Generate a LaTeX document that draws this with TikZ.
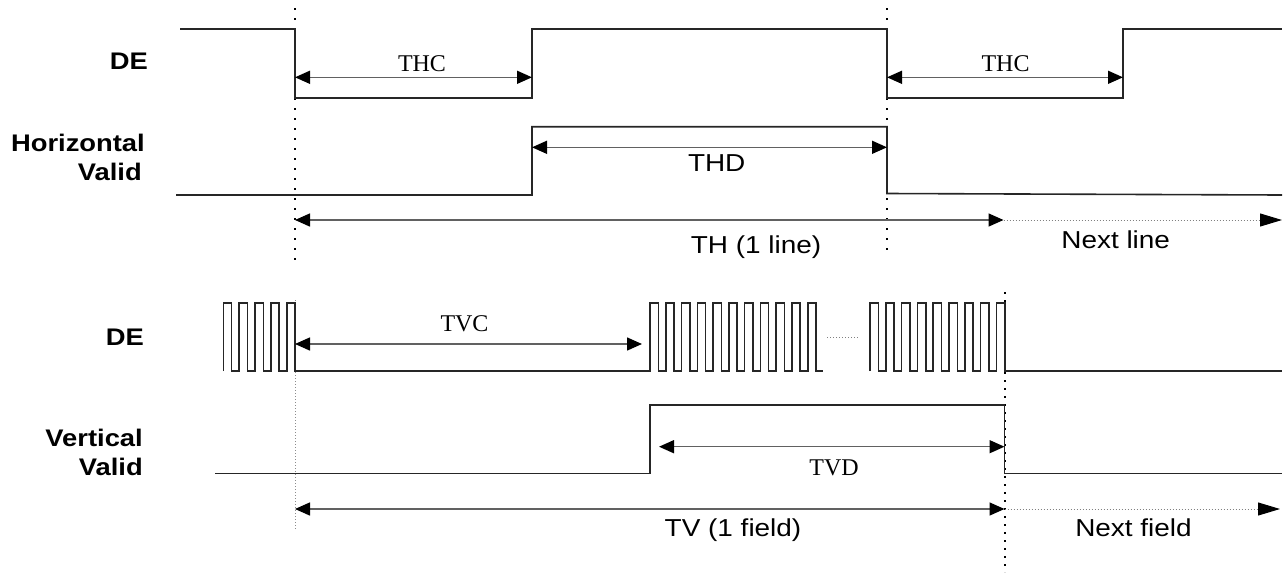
\documentclass[tikz,border=0pt]{standalone}
\usepackage{fontspec}
\setmainfont{Liberation Serif}
\newfontfamily\wsans[FakeStretch=1.14]{Liberation Sans}
\usetikzlibrary{arrows.meta}
\begin{document}
\begin{tikzpicture}[x=1pt,y=-1pt,
  wave/.style={line width=1.6pt, black!85, line join=miter},
  dimarrow/.style={line width=1.5pt, black!62,
    {Triangle[length=15pt,width=13pt,color=black]}-{Triangle[length=15pt,width=13pt,color=black]}},
  nextdot/.style={line width=1pt, black!50, dash pattern=on 1pt off 2pt,
    -{Triangle[length=22pt,width=13pt,color=black]}},
  gapdot/.style={line width=1pt, black!50, dash pattern=on 1pt off 2pt},
  vdotA/.style={line width=2pt, black, dash pattern=on 2pt off 8pt},
  vdotB/.style={line width=1pt, black!45, dash pattern=on 1pt off 2pt},
  vdotC/.style={line width=2pt, black, dash pattern=on 2pt off 6pt},
  siglabel/.style={font=\wsans\bfseries\fontsize{24}{28}\selectfont, inner sep=0pt, anchor=base east},
  sanslabel/.style={font=\wsans\fontsize{24.5}{28}\selectfont, inner sep=0pt, anchor=base},
  seriflabel/.style={font=\fontsize{24}{28}\selectfont, inner sep=0pt, anchor=base}
]
\useasboundingbox (0,0) rectangle (1286,574);

% ---------- vertical dotted guide lines ----------
\coordinate (gA1) at (295,8);   \coordinate (gA2) at (295,267);
\coordinate (gB1) at (887,8);   \coordinate (gB2) at (887,253);
\coordinate (gC1) at (295,300); \coordinate (gC2) at (295,530);
\coordinate (gD1) at (1004.5,292); \coordinate (gD2) at (1004.5,572);
\draw[vdotA] (gA1) -- (gA2);
\draw[vdotA] (gB1) -- (gB2);
\draw[vdotB] (gC1) -- (gC2);
\draw[vdotC] (gD1) -- (gD2);

% ---------- signal labels ----------
\node[siglabel] (lde1) at (148,69.3) {DE};
\node[siglabel] (lhv1) at (145,151.7) {Horizontal};
\node[siglabel] (lhv2) at (142,180.7) {Valid};
\node[siglabel] (lde2) at (144,345) {DE};
\node[siglabel] (lvv1) at (143,446.7) {Vertical};
\node[siglabel] (lvv2) at (143,475) {Valid};

% ---------- top DE ----------
\draw[wave] (180,29) -- (295,29) -- (295,97.7) -- (532,97.7) -- (532,29)
  -- (887,29) -- (887,97.7) -- (1123,97.7) -- (1123,29) -- (1282,29);

% ---------- Horizontal Valid ----------
\draw[wave] (176,195) -- (532,195) -- (532,126.7) -- (887,126.7)
  -- (887,193.5) -- (1282,195);

% ---------- lower DE pulse trains ----------
\draw[wave] (223.3,371) \foreach \i in {1,...,5} { -- ++(0,-68) -- ++(8.3,0) -- ++(0,68) -- ++(7.55,0) }
  -- (650,371)
  \foreach \i in {1,...,11} { -- ++(0,-68) -- ++(8.3,0) -- ++(0,68) -- ++(7.47,0) };
\draw[wave] (870,371) \foreach \i in {1,...,8} { -- ++(0,-68) -- ++(8.3,0) -- ++(0,68) -- ++(7.5,0) }
  -- ++(0,-68) -- ++(8.3,0) -- ++(0,68) -- (1282,371);
\coordinate (gap1) at (827,337.3); \coordinate (gap2) at (859,337.3);
\draw[gapdot] (gap1) -- (gap2);

% ---------- Vertical Valid ----------
\draw[wave] (215,473.5) -- (650,473.5) -- (650,405) -- (1004.5,405)
  -- (1004.5,473.5) -- (1282,473.5);

% ---------- dimension arrows ----------
\coordinate (thc1a) at (295,77.3);  \coordinate (thc1b) at (532,77.3);
\coordinate (thc2a) at (887,77.3);  \coordinate (thc2b) at (1123,77.3);
\coordinate (thda) at (532,147.3);  \coordinate (thdb) at (887,147.3);
\coordinate (tha) at (295,220);     \coordinate (thb) at (1003.5,220);  \coordinate (thc) at (1282,220);
\coordinate (tvca) at (295,344);    \coordinate (tvcb) at (642,344);
\coordinate (tvda) at (659,446.7);  \coordinate (tvdb) at (1004.5,446.7);
\coordinate (tva) at (295,509);     \coordinate (tvb) at (1004.5,509);  \coordinate (tvc) at (1280,509);

\draw[dimarrow] (thc1a) -- (thc1b);
\draw[dimarrow] (thc2a) -- (thc2b);
\draw[dimarrow] (thda) -- (thdb);
\draw[dimarrow] (tha) -- (thb);
\draw[nextdot] (thb) -- (thc);
\draw[dimarrow] (tvca) -- (tvcb);
\draw[dimarrow] (tvda) -- (tvdb);
\draw[dimarrow] (tva) -- (tvb);
\draw[nextdot] (tvb) -- (tvc);

% ---------- dimension labels ----------
\node[seriflabel] (tthc1) at (422,71.5) {THC};
\node[seriflabel] (tthc2) at (1005.5,71.5) {THC};
\node[sanslabel] (tthd) at (716.7,171.7) {THD};
\node[sanslabel] (tth) at (756,253) {TH (1 line)};
\node[sanslabel] (tnl) at (1115.7,248.3) {Next line};
\node[seriflabel] (ttvc) at (464.5,331.5) {TVC};
\node[seriflabel] (ttvd) at (834,475) {TVD};
\node[sanslabel] (ttv) at (733,536) {TV (1 field)};
\node[sanslabel] (tnf) at (1133.5,536) {Next field};
\end{tikzpicture}
\end{document}
